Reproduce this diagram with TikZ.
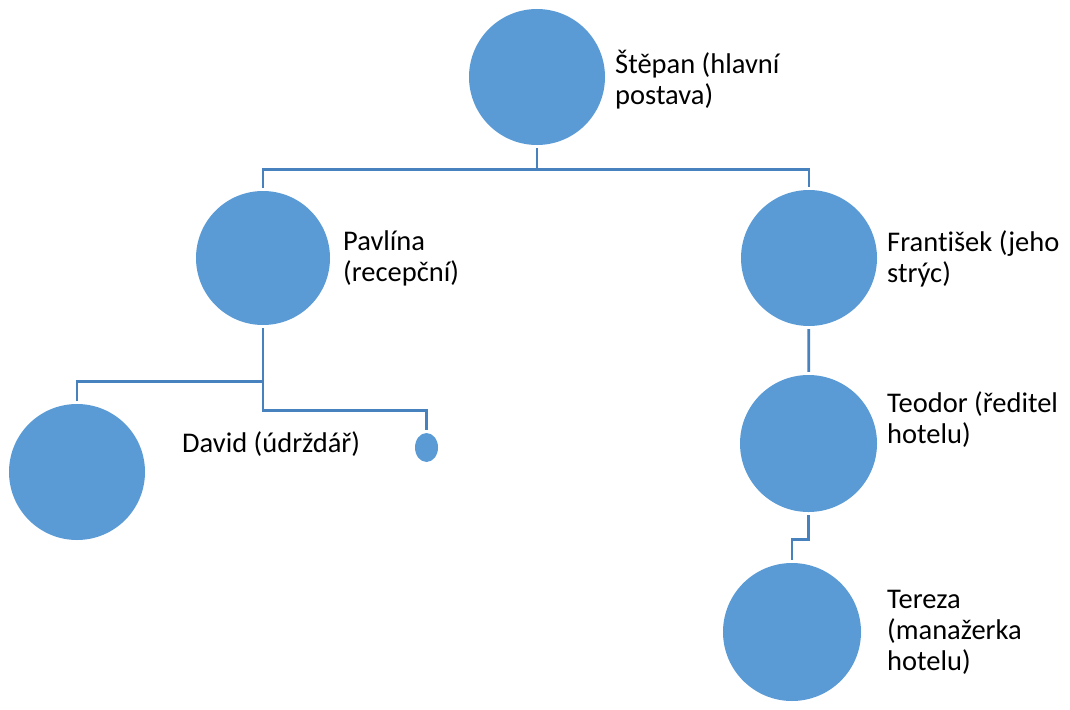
\documentclass[tikz,border=0pt]{standalone}
\usepackage{fontspec}
\setmainfont{Carlito}[Ligatures=NoCommon]
\usetikzlibrary{shapes.geometric,calc}
\definecolor{osoba}{HTML}{5B9BD5}
\definecolor{vetev}{RGB}{72,130,190}
\tikzstyle{person} = [circle, fill=osoba, minimum size=136pt, inner sep=0pt]
\tikzstyle{caption} = [anchor=base west, inner sep=0pt, align=left, font=\fontsize{28.5}{31}\selectfont]
\tikzstyle{link} = [line width=2.8pt, draw=vetev, shorten <=3pt, shorten >=3pt]

\begin{document}
\begin{tikzpicture}[x=1pt, y=-1pt]
  \useasboundingbox (0,0) rectangle (1070,709);
  \node (stepan)[person] at (537,77) {};
  \node (pavlina)[person, minimum size=134pt] at (263,258) {};
  \node (frantisek)[person] at (809,258) {};
  \node (david)[person] at (77,472) {};
  \node (drobny)[ellipse, fill=osoba, minimum width=23pt, minimum height=29pt, inner sep=0pt] at (426.5,447.5) {};
  \node (teodor)[person, minimum size=137pt] at (808.5,443.5) {};
  \node (tereza)[person, minimum size=138pt] at (792,632) {};
  % popisky
  \node (lstepan)[caption] at (615,104) {Štěpan (hlavní\\postava)};
  \node (lpavlina)[caption] at (343,281) {Pavlína\\(recepční)};
  \node (lfrantisek)[caption] at (887,282) {František (jeho\\strýc)};
  \node (ldavid)[caption] at (182,452) {David (údrždář)};
  \node (lteodor)[caption] at (887,443) {Teodor (ředitel\\hotelu)};
  \node (ltereza)[caption] at (887,670) {Tereza\\(manažerka\\hotelu)};
  % vetve
  \draw [link] (stepan.south) -- ++(0,24) -| (pavlina.north);
  \draw [link, shorten <=0pt] ($(stepan.south)+(0,24)$) -| (frantisek.north);
  \draw [link] (pavlina.south) -- ++(0,85) -| (drobny.north);
  \draw [link, shorten <=0pt] ($(pavlina.south)+(0,56)$) -| (david.north);
  \draw [link] (frantisek) -- (teodor);
  \draw [link] (teodor.south) -- ++(0,27) -| (tereza.north);
\end{tikzpicture}
\end{document}
